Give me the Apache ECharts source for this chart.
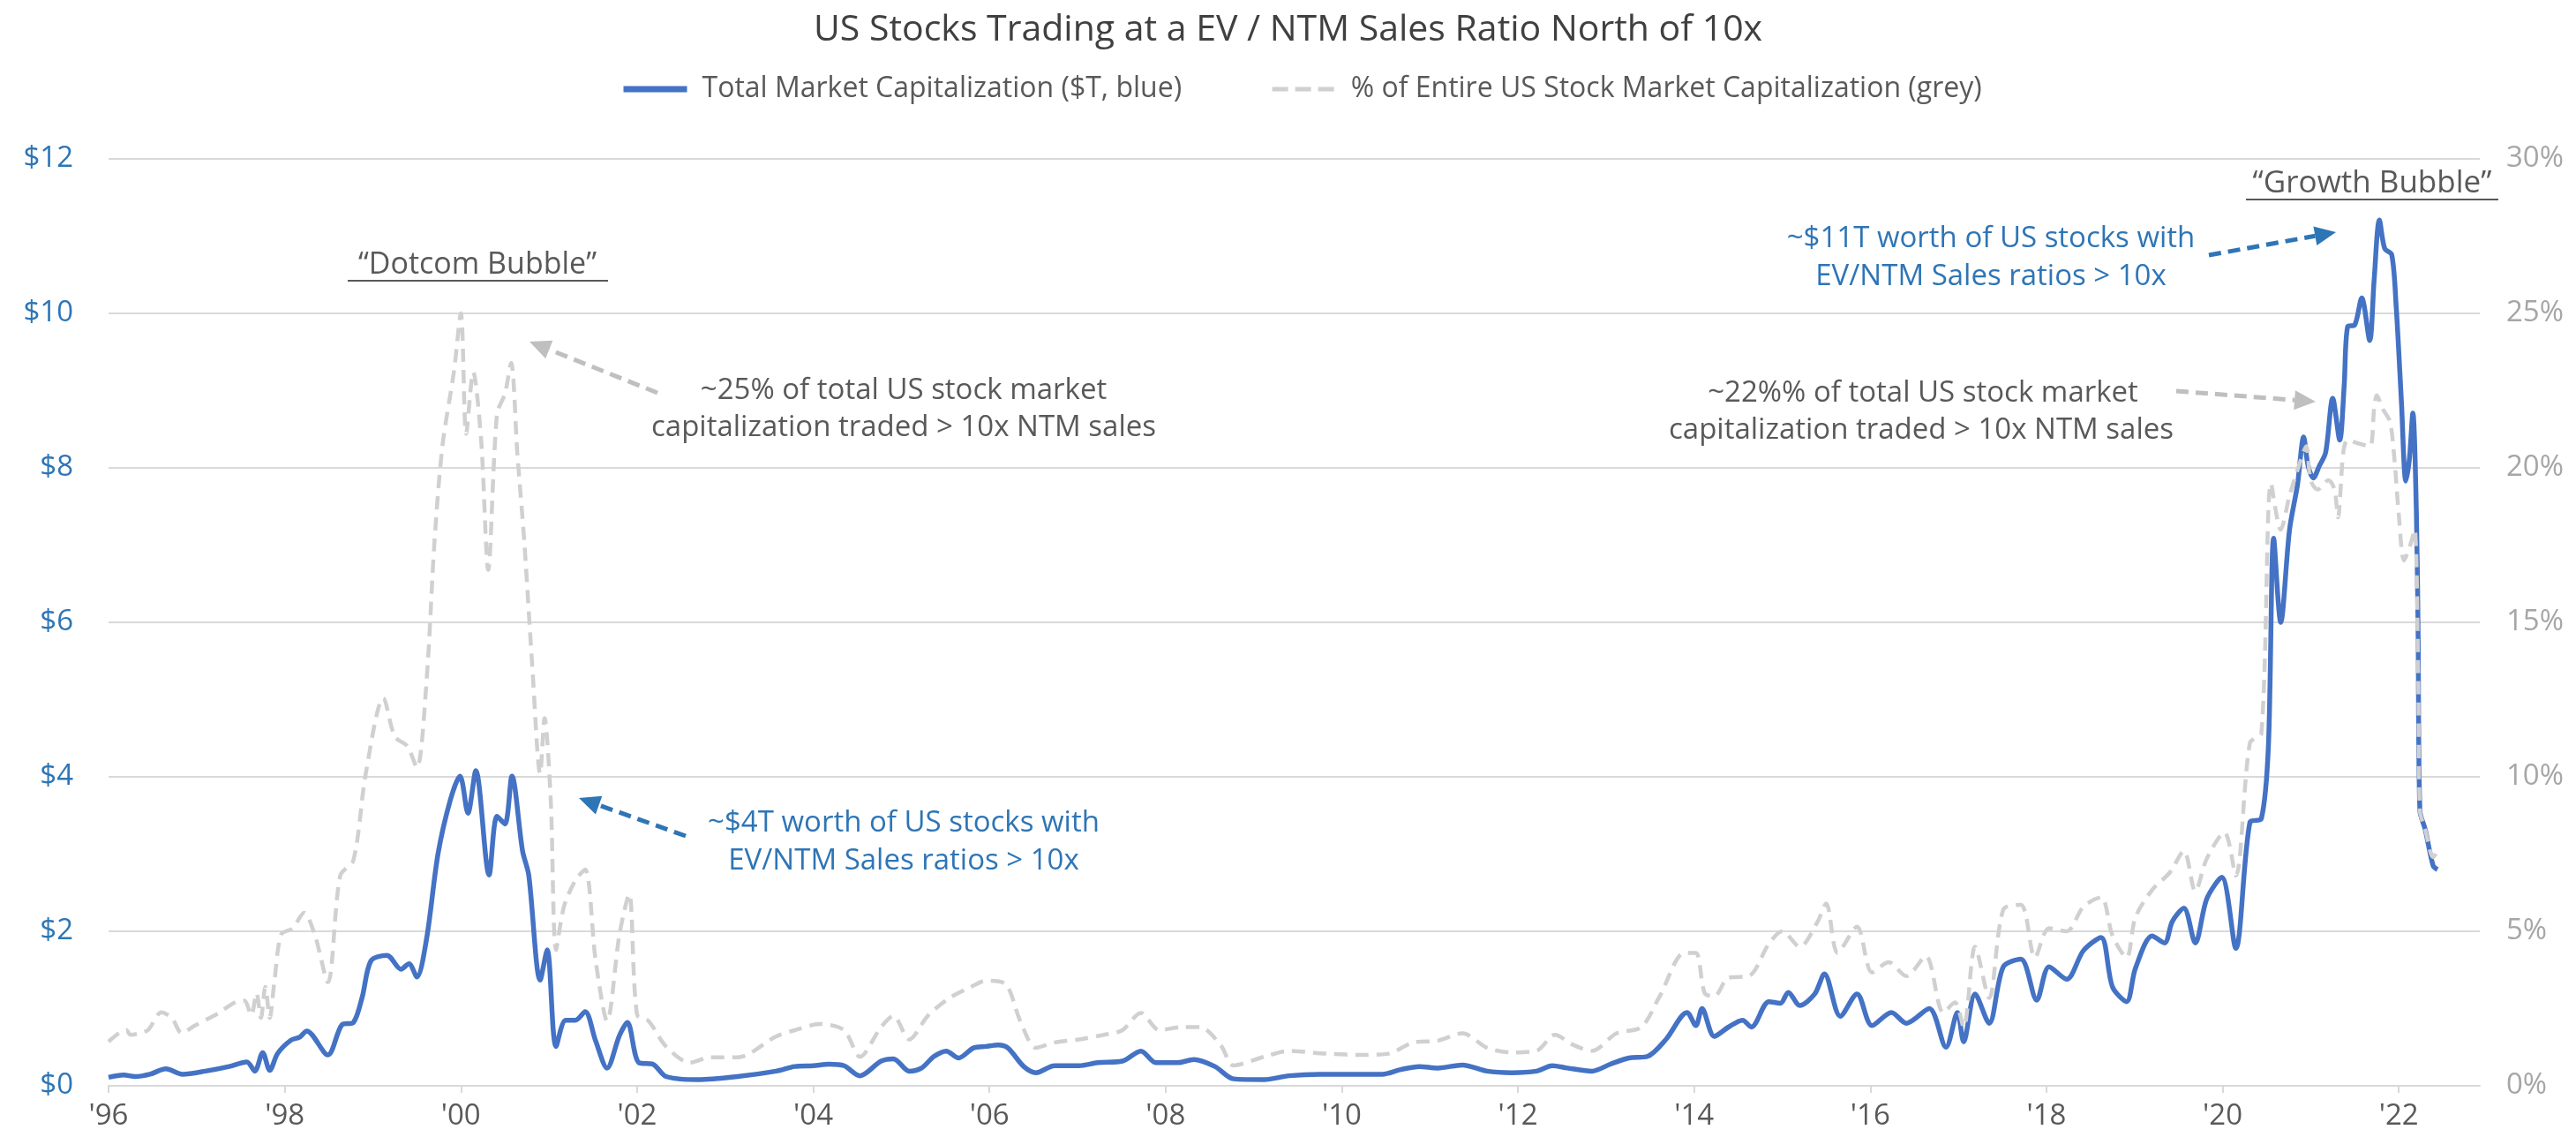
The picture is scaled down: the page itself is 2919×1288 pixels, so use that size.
<!DOCTYPE html>
<html>
<head>
<meta charset="utf-8">
<script src="https://cdn.jsdelivr.net/npm/echarts@6/dist/echarts.min.js"></script>
<style>
  html, body { margin: 0; padding: 0; background: #fff; }
  #chart { width: 2919px; height: 1288px; }
</style>
</head>
<body>
<div id="chart"></div>
<script>
// total market cap of stocks above 10x EV/NTM sales ($T)
var capYears = [1996.00,1996.17,1996.30,1996.47,1996.65,1996.84,1997.10,1997.37,1997.57,1997.66,1997.75,1997.83,1997.92,1998.07,1998.17,1998.25,1998.49,1998.65,1998.78,1998.88,1998.98,1999.16,1999.32,1999.41,1999.50,1999.61,1999.74,1999.88,1999.99,2000.08,2000.17,2000.32,2000.41,2000.50,2000.58,2000.70,2000.77,2000.90,2000.98,2001.08,2001.19,2001.30,2001.41,2001.53,2001.66,2001.80,2001.89,2002.02,2002.18,2002.33,2002.69,2003.14,2003.58,2003.79,2004.00,2004.18,2004.35,2004.53,2004.77,2004.91,2005.09,2005.23,2005.37,2005.51,2005.65,2005.82,2005.96,2006.10,2006.21,2006.39,2006.53,2006.74,2007.02,2007.23,2007.51,2007.72,2007.89,2008.14,2008.32,2008.56,2008.77,2009.12,2009.40,2009.75,2010.10,2010.46,2010.67,2010.88,2011.09,2011.37,2011.65,2011.93,2012.21,2012.39,2012.56,2012.84,2013.05,2013.26,2013.47,2013.68,2013.92,2014.02,2014.09,2014.23,2014.39,2014.55,2014.65,2014.85,2014.98,2015.07,2015.20,2015.37,2015.48,2015.66,2015.85,2016.02,2016.24,2016.41,2016.67,2016.86,2016.99,2017.06,2017.19,2017.35,2017.51,2017.71,2017.89,2018.03,2018.23,2018.42,2018.62,2018.75,2018.91,2019.01,2019.20,2019.34,2019.43,2019.56,2019.69,2019.82,2019.99,2020.15,2020.31,2020.44,2020.52,2020.58,2020.66,2020.76,2020.85,2020.92,2020.97,2021.03,2021.10,2021.17,2021.25,2021.33,2021.38,2021.42,2021.50,2021.58,2021.67,2021.72,2021.78,2021.84,2021.92,2021.97,2022.03,2022.08,2022.12,2022.16,2022.20,2022.22,2022.24,2022.30,2022.39,2022.44];
var capValues = [0.11,0.14,0.12,0.15,0.22,0.15,0.19,0.25,0.31,0.19,0.43,0.20,0.42,0.59,0.63,0.71,0.40,0.79,0.82,1.15,1.62,1.69,1.51,1.58,1.41,1.90,3.00,3.70,4.01,3.53,4.08,2.73,3.49,3.39,4.01,3.04,2.73,1.37,1.76,0.51,0.85,0.85,0.96,0.58,0.23,0.65,0.82,0.30,0.28,0.12,0.08,0.12,0.19,0.25,0.26,0.28,0.26,0.13,0.32,0.35,0.19,0.23,0.38,0.45,0.36,0.49,0.51,0.53,0.49,0.25,0.17,0.26,0.26,0.30,0.32,0.45,0.30,0.30,0.34,0.25,0.09,0.08,0.13,0.15,0.15,0.15,0.21,0.25,0.23,0.27,0.19,0.17,0.19,0.26,0.23,0.19,0.28,0.36,0.38,0.60,0.95,0.78,1.00,0.64,0.76,0.85,0.76,1.09,1.07,1.21,1.04,1.19,1.45,0.90,1.19,0.78,0.95,0.81,1.00,0.50,0.95,0.57,1.19,0.81,1.54,1.64,1.11,1.54,1.38,1.75,1.92,1.28,1.09,1.52,1.94,1.85,2.13,2.30,1.85,2.42,2.70,1.78,3.41,3.46,4.40,7.09,6.00,7.20,7.78,8.40,8.03,7.87,8.03,8.20,8.90,8.36,9.06,9.83,9.85,10.20,9.65,10.43,11.21,10.84,10.76,10.10,8.86,7.83,8.11,8.71,7.42,5.80,3.56,3.32,2.85,2.80];

// share of entire US market cap (%)
var pctYears = [1996.00,1996.12,1996.20,1996.25,1996.35,1996.45,1996.60,1996.72,1996.83,1996.98,1997.24,1997.44,1997.54,1997.62,1997.68,1997.73,1997.78,1997.83,1997.88,1997.96,1998.09,1998.22,1998.34,1998.49,1998.63,1998.78,1998.92,1999.12,1999.25,1999.39,1999.50,1999.61,1999.70,1999.79,1999.92,2000.00,2000.06,2000.14,2000.23,2000.31,2000.41,2000.50,2000.57,2000.64,2000.72,2000.81,2000.90,2000.95,2001.02,2001.08,2001.17,2001.30,2001.41,2001.53,2001.66,2001.80,2001.91,2002.00,2002.13,2002.33,2002.60,2002.83,2003.14,2003.58,2003.79,2004.07,2004.35,2004.53,2004.77,2004.91,2005.09,2005.30,2005.54,2005.79,2005.96,2006.18,2006.35,2006.53,2006.74,2007.02,2007.30,2007.51,2007.72,2007.93,2008.18,2008.39,2008.63,2008.77,2009.12,2009.40,2009.82,2010.25,2010.53,2010.81,2011.09,2011.37,2011.65,2011.93,2012.21,2012.42,2012.63,2012.84,2013.12,2013.40,2013.61,2013.89,2014.02,2014.12,2014.23,2014.39,2014.62,2014.85,2015.00,2015.20,2015.40,2015.50,2015.63,2015.85,2016.02,2016.21,2016.41,2016.63,2016.83,2016.96,2017.06,2017.19,2017.35,2017.51,2017.71,2017.87,2018.03,2018.23,2018.42,2018.62,2018.75,2018.91,2019.01,2019.20,2019.40,2019.56,2019.69,2019.82,2020.02,2020.15,2020.31,2020.44,2020.55,2020.66,2020.76,2020.87,2020.95,2021.00,2021.08,2021.20,2021.27,2021.31,2021.37,2021.42,2021.53,2021.67,2021.72,2021.75,2021.82,2021.90,2021.95,2022.00,2022.06,2022.13,2022.18,2022.22,2022.24,2022.30,2022.39,2022.46];
var pctValues = [1.43,1.71,1.81,1.65,1.70,1.81,2.38,2.19,1.71,1.95,2.34,2.71,2.76,2.29,3.00,2.20,3.20,2.20,3.30,4.90,5.10,5.60,4.90,3.35,6.80,7.30,10.10,12.55,11.30,11.00,10.30,13.10,17.60,20.70,23.10,25.00,21.10,23.10,20.90,16.70,21.75,22.40,23.40,20.50,17.60,13.60,10.10,11.90,9.25,4.40,5.80,6.65,7.00,4.05,2.10,4.90,6.20,2.30,2.10,1.27,0.75,0.92,0.92,1.60,1.80,2.00,1.80,0.94,1.90,2.26,1.50,2.26,2.83,3.20,3.40,3.30,2.10,1.23,1.40,1.50,1.65,1.80,2.36,1.80,1.90,1.90,1.30,0.66,0.94,1.13,1.04,1.00,1.04,1.40,1.46,1.70,1.23,1.08,1.13,1.65,1.32,1.13,1.70,1.90,2.90,4.30,4.30,3.00,2.90,3.50,3.55,4.60,5.00,4.50,5.30,5.90,4.30,5.15,3.67,4.00,3.55,4.20,2.37,2.70,1.90,4.50,2.84,5.70,5.86,4.15,5.10,5.00,5.80,6.10,4.86,4.15,5.45,6.34,6.90,7.60,6.30,7.35,8.20,6.80,11.10,11.40,19.50,18.00,19.10,20.10,20.70,19.60,19.30,19.60,19.30,18.40,20.50,20.90,20.80,20.70,21.90,22.35,21.90,21.50,20.30,18.50,17.00,17.50,18.00,13.50,8.90,8.30,7.40,7.70];

var xTickLabels = ["'96","'98","'00","'02","'04","'06","'08","'10","'12","'14","'16","'18","'20","'22"];
var capTickLabels = ['$0','$2','$4','$6','$8','$10','$12'];
var pctTickLabels = ['0%','5%','10%','15%','20%','25%','30%'];

var capData = capYears.map(function (y, i) { return [y, capValues[i]]; });
var pctData = pctYears.map(function (y, i) { return [y, pctValues[i]]; });

var FONT = 'Open Sans';
var BLUE = '#4472C4';
var BLUE_TXT = '#2E75B6';
var GREY_LINE = '#d0d0d0';
var GREY_TXT = '#595959';

var chart = echarts.init(document.getElementById('chart'));

function label(text, x, y, color, size) {
    return {
        type: 'text', x: x, y: y, z: 20,
        style: {
            text: text, fill: color, font: size + 'px "' + FONT + '"',
            textAlign: 'center', textVerticalAlign: 'middle'
        }
    };
}

function underline(x1, x2, y) {
    return {
        type: 'line', z: 20,
        shape: { x1: x1, y1: y, x2: x2, y2: y },
        style: { stroke: GREY_TXT, lineWidth: 2 }
    };
}

// dashed arrow, head at (x2, y2)
function arrow(x1, y1, x2, y2, color) {
    var dx = x2 - x1, dy = y2 - y1;
    var len = Math.sqrt(dx * dx + dy * dy);
    var ux = dx / len, uy = dy / len;
    var hl = 24, hw = 11;
    var bx = x2 - ux * hl, by = y2 - uy * hl;
    return [
        {
            type: 'line', z: 20,
            shape: { x1: x1, y1: y1, x2: bx, y2: by },
            style: { stroke: color, lineWidth: 5, lineDash: [14, 8] }
        },
        {
            type: 'polygon', z: 20,
            shape: { points: [[x2, y2], [bx - uy * hw, by + ux * hw], [bx + uy * hw, by - ux * hw]] },
            style: { fill: color }
        }
    ];
}

var graphics = [
    label('\u201cDotcom Bubble\u201d', 541, 300, GREY_TXT, 34),
    underline(394, 689, 318),
    label('~25% of total US stock market', 1024, 443, GREY_TXT, 33),
    label('capitalization traded > 10x NTM sales', 1024, 485, GREY_TXT, 33),
    label('~$4T worth of US stocks with', 1024, 933, BLUE_TXT, 33),
    label('EV/NTM Sales ratios > 10x', 1024, 976, BLUE_TXT, 33),
    label('\u201cGrowth Bubble\u201d', 2688, 208, GREY_TXT, 35),
    underline(2545, 2831, 226),
    label('~$11T worth of US stocks with', 2256, 271, BLUE_TXT, 33),
    label('EV/NTM Sales ratios > 10x', 2256, 314, BLUE_TXT, 33),
    label('~22%% of total US stock market', 2179, 446, GREY_TXT, 33),
    label('capitalization traded > 10x NTM sales', 2177, 488, GREY_TXT, 33)
].concat(
    arrow(745, 445, 600, 387, '#bfbfbf'),
    arrow(777, 947, 656, 904, BLUE_TXT),
    arrow(2503, 289, 2647, 263, BLUE_TXT),
    arrow(2466, 443, 2624, 455, '#bfbfbf')
);

var option = {
    animation: false,
    backgroundColor: '#ffffff',
    title: {
        text: 'US Stocks Trading at a EV / NTM Sales Ratio North of 10x',
        left: 'center',
        top: 9,
        textStyle: { fontFamily: FONT, fontSize: 41, fontWeight: 'normal', color: '#404040' }
    },
    legend: {
        top: 80,
        left: 698,
        itemWidth: 72,
        itemHeight: 14,
        itemGap: 100,
        itemStyle: { opacity: 0 },
        textStyle: { fontFamily: FONT, fontSize: 32, color: GREY_TXT, padding: [0, 0, 0, 12] },
        data: [
            { name: 'Total Market Capitalization ($T, blue)', lineStyle: { width: 7, color: BLUE } },
            { name: '% of Entire US Stock Market Capitalization (grey)', lineStyle: { width: 5, color: GREY_LINE, type: [18, 8] } }
        ]
    },
    grid: { left: 123, right: 109, top: 180, bottom: 58 },
    xAxis: {
        type: 'value',
        min: 1996,
        max: 2022.92,
        interval: 2,
        axisLine: { lineStyle: { color: '#d9d9d9', width: 2 } },
        axisTick: { show: true, length: 8, lineStyle: { color: '#d9d9d9', width: 2 } },
        splitLine: { show: false },
        axisLabel: {
            color: GREY_TXT, fontFamily: FONT, fontSize: 33, margin: 18,
            showMaxLabel: false,
            formatter: function (v) {
                var k = (v - 1996) / 2;
                return Math.abs(k - Math.round(k)) < 1e-6 ? (xTickLabels[Math.round(k)] || '') : '';
            }
        }
    },
    yAxis: [
        {
            type: 'value', min: 0, max: 12, interval: 2, position: 'left',
            axisLine: { show: false }, axisTick: { show: false },
            splitLine: { lineStyle: { color: '#d9d9d9', width: 2 } },
            axisLabel: {
                color: BLUE_TXT, fontFamily: FONT, fontSize: 33, margin: 40,
                formatter: function (v) { return capTickLabels[Math.round(v / 2)]; }
            }
        },
        {
            type: 'value', min: 0, max: 30, interval: 5, position: 'right',
            axisLine: { show: false }, axisTick: { show: false },
            splitLine: { show: false },
            axisLabel: {
                color: '#a6a6a6', fontFamily: FONT, fontSize: 33, margin: 30,
                formatter: function (v) { return pctTickLabels[Math.round(v / 5)]; }
            }
        }
    ],
    series: [
        {
            name: 'Total Market Capitalization ($T, blue)',
            type: 'line',
            yAxisIndex: 0,
            data: capData,
            symbol: 'none',
            smooth: 0.3,
            z: 3,
            itemStyle: { color: BLUE },
            lineStyle: { color: BLUE, width: 5.5 }
        },
        {
            name: '% of Entire US Stock Market Capitalization (grey)',
            type: 'line',
            yAxisIndex: 1,
            data: pctData,
            symbol: 'none',
            smooth: 0.3,
            z: 4,
            itemStyle: { color: GREY_LINE },
            lineStyle: { color: GREY_LINE, width: 4.5, type: [15, 9] }
        }
    ],
    graphic: graphics
};

chart.setOption(option);
</script>
</body>
</html>
